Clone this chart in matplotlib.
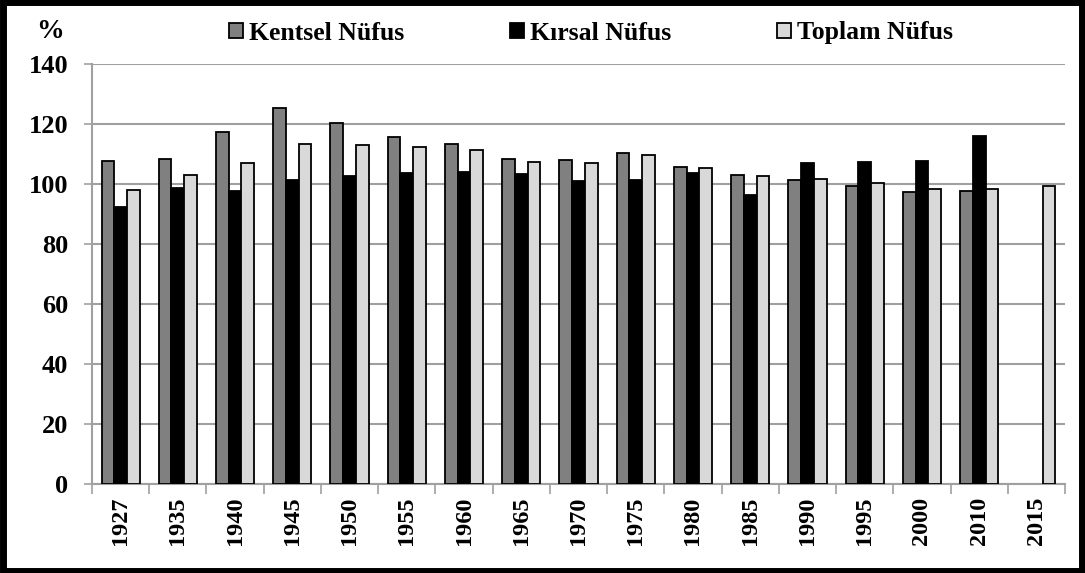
import numpy as np
import matplotlib
matplotlib.use("Agg")
import matplotlib.pyplot as plt
from matplotlib.patches import Rectangle

plt.rcParams['font.family'] = ['Liberation Serif', 'DejaVu Serif']
plt.rcParams['font.weight'] = 'bold'

years = ['1927', '1935', '1940', '1945', '1950', '1955', '1960', '1965', '1970',
         '1975', '1980', '1985', '1990', '1995', '2000', '2010', '2015']
kentsel = [107.8, 108.4, 117.3, 125.3, 120.4, 115.7, 113.3, 108.5, 108.0,
           110.5, 105.8, 103.1, 101.2, 99.4, 97.5, 97.7, np.nan]
kirsal = [92.2, 98.7, 97.8, 101.5, 102.8, 103.8, 104.0, 103.4, 101.0,
          101.5, 103.8, 96.4, 107.0, 107.4, 107.8, 116.1, np.nan]
toplam = [98.0, 103.1, 107.0, 113.4, 112.9, 112.4, 111.5, 107.5, 107.0,
          109.7, 105.5, 102.8, 101.7, 100.3, 98.2, 98.2, 99.4]

fig = plt.figure(figsize=(10.85, 5.73), dpi=100)
ax = fig.add_axes([92/1085, 89/573, 973/1085, 420/573])

x = np.arange(len(years))
w = 1 / 4.5
grid_col = '#a0a0a0'
ax.bar(x - w, kentsel, w, color='#808080', edgecolor='black', linewidth=1.3,
       label='Kentsel Nüfus', zorder=3)
ax.bar(x, kirsal, w, color='black', edgecolor='black', linewidth=1.3,
       label='Kırsal Nüfus', zorder=3)
ax.bar(x + w, toplam, w, color='#d9d9d9', edgecolor='black', linewidth=1.3,
       label='Toplam Nüfus', zorder=3)

ax.set_xlim(-0.5, len(years) - 0.5)
ax.set_ylim(0, 140)
ax.set_yticks(range(0, 141, 20))
ax.yaxis.grid(True, color=grid_col, linewidth=1.5, zorder=0)
ax.tick_params(axis='y', length=6, width=1.2, color=grid_col, pad=11, labelsize=19)

ax.set_xticks(x)
ax.set_xticklabels(years, rotation=90, fontsize=17.5)
ax.set_xticks(np.arange(-0.5, len(years), 1), minor=True)
ax.tick_params(axis='x', which='major', length=0, pad=9)
ax.tick_params(axis='x', which='minor', length=7, width=1.2, color=grid_col)

for side in ['top', 'right']:
    ax.spines[side].set_visible(False)
for side in ['left', 'bottom']:
    ax.spines[side].set_color(grid_col)
    ax.spines[side].set_linewidth(1.5)

fig.legend(loc='center', bbox_to_anchor=(591/1085, 1 - 33/573), ncol=3,
           frameon=False, fontsize=18.5, handlelength=0.55, handleheight=0.55,
           handletextpad=0.25, columnspacing=4.1, borderpad=0)

fig.text(50/1085, 1 - 32/573, '%', fontsize=20, ha='center', va='center')

fig.patches.append(Rectangle((0.0025, 0.004), 0.995, 0.992, transform=fig.transFigure,
                             fill=False, edgecolor='black', linewidth=5))

fig.savefig('out.png', dpi=100)
